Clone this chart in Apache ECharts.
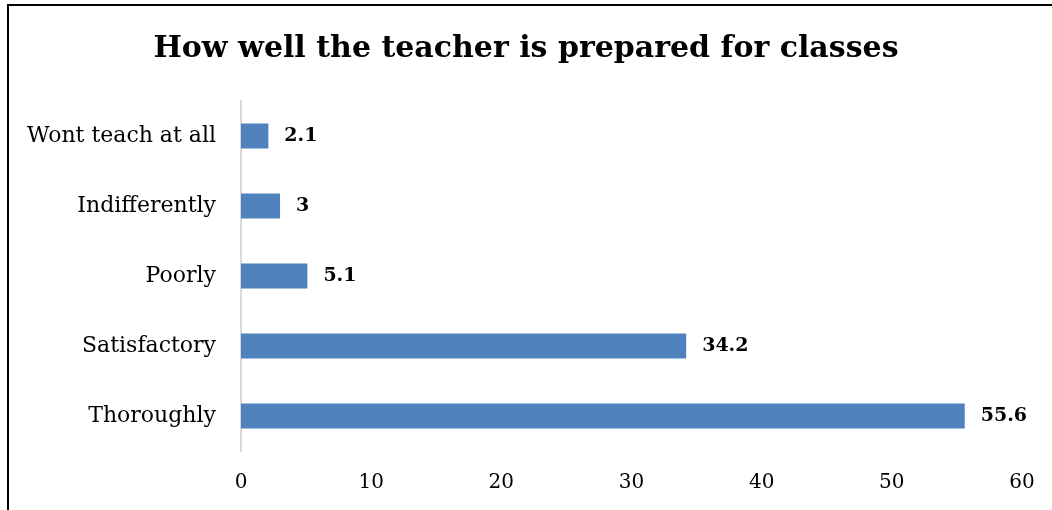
<!DOCTYPE html>
<html>
<head>
<meta charset="utf-8">
<script src="https://cdn.jsdelivr.net/npm/echarts@6/dist/echarts.min.js"></script>
<style>
  html, body { margin: 0; padding: 0; background: #fff; }
  #echartsMain { width: 1052px; height: 510px; }
</style>
</head>
<body>
<div id="echartsMain"></div>
<script>
// data
var categories = ['Thoroughly', 'Satisfactory', 'Poorly', 'Indifferently', 'Wont teach at all'];
var values = [55.6, 34.2, 5.1, 3, 2.1];
var titleText = 'How well the teacher is prepared for classes';

var fontFam = '"DejaVu Serif", "Liberation Serif", serif';

var myChart = echarts.init(document.getElementById('echartsMain'));

var option = {
    animation: false,
    title: {
        text: titleText,
        left: 'center',
        top: 29,
        textStyle: {
            fontFamily: fontFam,
            fontSize: 30,
            fontWeight: 'bold',
            color: '#000'
        }
    },
    graphic: [{
        type: 'polyline',
        shape: { points: [[8, 520], [8, 5], [1060, 5]] },
        style: { stroke: '#000', lineWidth: 2, fill: null }
    }],
    grid: {
        left: 241,
        right: 30,
        top: 101,
        bottom: 59,
        containLabel: false
    },
    xAxis: {
        type: 'value',
        min: 0,
        max: 60,
        interval: 10,
        axisLine: { show: false },
        axisTick: { show: false },
        splitLine: { show: false },
        axisLabel: {
            fontFamily: fontFam,
            fontSize: 20,
            color: '#000',
            margin: 22
        }
    },
    yAxis: {
        type: 'category',
        data: categories,
        axisLine: { show: true, lineStyle: { color: '#d9d9d9', width: 2 } },
        axisTick: { show: false },
        axisLabel: {
            fontFamily: fontFam,
            fontSize: 22,
            color: '#000',
            margin: 25
        }
    },
    series: [{
        name: 'prepared',
        type: 'bar',
        data: values,
        barWidth: 25,
        itemStyle: { color: '#4f81bd' },
        label: {
            show: true,
            position: 'right',
            distance: 16,
            fontFamily: fontFam,
            fontSize: 19,
            fontWeight: 'bold',
            color: '#000'
        }
    }]
};

myChart.setOption(option);
</script>
</body>
</html>
